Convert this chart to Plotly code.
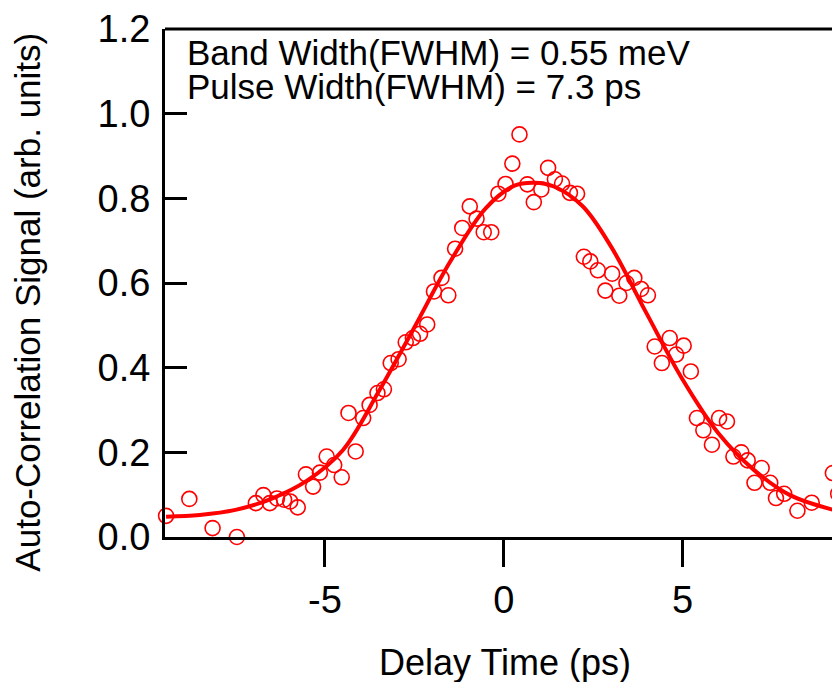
import plotly.graph_objects as go

# measured points (ps, arb. units)
delay = [-9.44, -8.79, -8.14, -7.46, -6.93, -6.72, -6.54, -6.34, -6.14, -5.97,
         -5.76, -5.53, -5.33, -5.14, -4.95, -4.74, -4.53, -4.34, -4.14, -3.93,
         -3.75, -3.53, -3.35, -3.16, -2.94, -2.74, -2.54, -2.34, -2.14, -1.95,
         -1.74, -1.55, -1.36, -1.16, -0.95, -0.76, -0.56, -0.35, -0.15, 0.05,
         0.24, 0.44, 0.66, 0.84, 1.05, 1.24, 1.43, 1.63, 1.85, 2.05,
         2.24, 2.42, 2.63, 2.84, 3.03, 3.23, 3.43, 3.65, 3.84, 4.03,
         4.22, 4.42, 4.64, 4.82, 5.03, 5.23, 5.40, 5.58, 5.82, 6.02,
         6.24, 6.42, 6.64, 6.82, 7.01, 7.21, 7.45, 7.61, 7.84, 8.21,
         8.61, 9.20, 9.35]
signal = [0.050, 0.090, 0.021, 0.000, 0.080, 0.099, 0.080, 0.091, 0.088, 0.084,
          0.070, 0.148, 0.119, 0.152, 0.190, 0.170, 0.141, 0.293, 0.202, 0.281,
          0.312, 0.340, 0.349, 0.411, 0.420, 0.460, 0.470, 0.480, 0.502, 0.580,
          0.612, 0.571, 0.681, 0.730, 0.781, 0.752, 0.720, 0.720, 0.811, 0.834,
          0.882, 0.951, 0.833, 0.791, 0.821, 0.872, 0.845, 0.835, 0.813, 0.811,
          0.662, 0.651, 0.630, 0.582, 0.622, 0.570, 0.600, 0.612, 0.586, 0.571,
          0.450, 0.411, 0.470, 0.431, 0.452, 0.391, 0.281, 0.252, 0.218, 0.281,
          0.273, 0.190, 0.200, 0.181, 0.128, 0.163, 0.128, 0.092, 0.102, 0.062,
          0.081, 0.151, 0.102]

# fitted curve
fit_x = [-9.44, -8.5, -7.5, -6.5, -5.5, -4.5, -3.5, -2.5, -1.5, -0.5,
         0.3, 0.85, 1.4, 2.2, 3.0, 4.0, 5.0, 6.0, 7.0, 8.0, 9.4]
fit_y = [0.048, 0.052, 0.064, 0.090, 0.133, 0.205, 0.343, 0.495, 0.650, 0.777,
         0.830, 0.837, 0.828, 0.782, 0.686, 0.527, 0.372, 0.245, 0.158, 0.099, 0.060]

x_ticks = [-5, 0, 5]
y_ticks = [0.0, 0.2, 0.4, 0.6, 0.8, 1.0, 1.2]

FONT = "Liberation Sans, Arial, sans-serif"
RED = "#ff0000"

fig = go.Figure()
fig.add_trace(go.Scatter(x=fit_x, y=fit_y, mode='lines', line_shape='spline',
                         line=dict(color=RED, width=4), cliponaxis=False,
                         hoverinfo='skip'))
fig.add_trace(go.Scatter(x=delay, y=signal, mode='markers', cliponaxis=False,
                         marker=dict(symbol='circle-open', size=15, color=RED,
                                     line=dict(width=1.6, color=RED))))

# page has an 8px body margin, so the figure is 8px smaller than the window
fig.update_layout(
    width=832, height=674,
    margin=dict(l=156.5, r=0, t=21, b=145),
    paper_bgcolor='white', plot_bgcolor='white',
    showlegend=False,
    font=dict(family=FONT, color='black'),
)
fig.update_xaxes(
    range=[-9.47, 9.40], showgrid=False, zeroline=False,
    showline=True, linecolor='black', linewidth=3,
    ticks='outside', ticklen=27, tickwidth=3, tickcolor='black',
    tickvals=x_ticks, ticktext=[str(v) for v in x_ticks],
    tickfont=dict(size=38, family=FONT), ticklabelstandoff=0,
)
fig.update_yaxes(
    range=[0, 1.2], showgrid=False, zeroline=False,
    showline=True, linecolor='black', linewidth=3,
    ticks='inside', ticklen=22, tickwidth=3, tickcolor='black',
    tickvals=y_ticks, ticktext=['%.1f' % v for v in y_ticks],
    tickfont=dict(size=38, family=FONT), ticklabelstandoff=4,
)

# top frame line (right side of the original is cropped)
fig.add_shape(type='line', xref='paper', yref='paper', x0=0, x1=1, y0=1, y1=1,
              line=dict(color='black', width=3))

# axis titles as annotations so they sit where the original has them
fig.add_annotation(xref='paper', yref='paper', x=0.504, y=-0.248,
                   xanchor='center', yanchor='middle', showarrow=False,
                   text='Delay Time (ps)', font=dict(size=36, family=FONT))
fig.add_annotation(xref='paper', yref='paper', x=-0.2035, y=0.4626,
                   xanchor='center', yanchor='middle', showarrow=False, textangle=-90,
                   text='Auto-Correlation Signal (arb. units)', font=dict(size=35, family=FONT))

fig.add_annotation(xref='paper', yref='paper', x=0.0296, y=1 - (52 - 29) / 508,
                   xanchor='left', yanchor='middle', showarrow=False,
                   text='Band Width(FWHM) = 0.55 meV', font=dict(size=35, family=FONT))
fig.add_annotation(xref='paper', yref='paper', x=0.0296, y=1 - (86 - 29) / 508,
                   xanchor='left', yanchor='middle', showarrow=False,
                   text='Pulse Width(FWHM) = 7.3 ps', font=dict(size=35, family=FONT))

fig.write_html("out.html")
